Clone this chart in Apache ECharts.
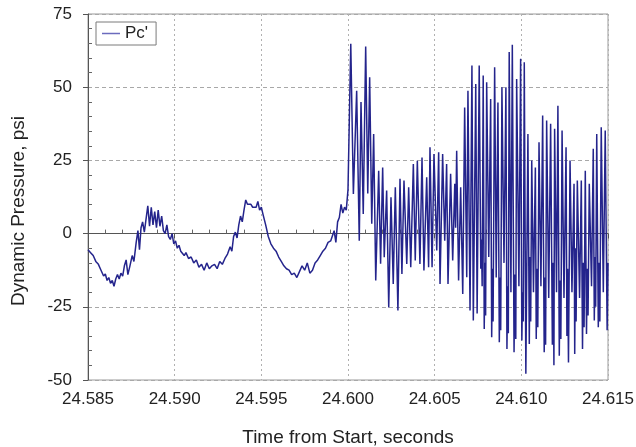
<!DOCTYPE html>
<html>
<head>
<meta charset="utf-8">
<script src="https://cdn.jsdelivr.net/npm/echarts@6/dist/echarts.min.js"></script>
<style>html,body{margin:0;padding:0;background:#fff}#c{width:636px;height:447px}</style>
</head>
<body>
<div id="c"></div>
<script>
// Time offsets in milliseconds after 24.585 s, and dynamic pressure (psi)
// Segment 1: slow wave before the burst
const earlyMs = [
0.00,0.15,0.30,0.45,0.60,0.75,0.90,1.00,1.10,1.20,1.30,1.40,1.50,1.60,1.70,1.80,1.90,2.00,2.10,2.20,
2.30,2.42,2.55,2.65,2.78,2.88,2.97,3.06,3.15,3.25,3.35,3.45,3.55,3.65,3.75,3.85,3.95,4.05,4.15,4.25,
4.35,4.45,4.55,4.65,4.75,4.85,4.95,5.05,5.15,5.25,5.35,5.45,5.55,5.65,5.80,5.95,6.10,6.25,6.40,6.55,
6.70,6.85,7.00,7.15,7.30,7.45,7.60,7.75,7.90,8.05,8.20,8.30,8.40,8.50,8.60,8.70,8.80,8.90,9.00,9.10,
9.20,9.30,9.40,9.50,9.60,9.70,9.80,9.90,10.00,10.10,10.25,10.40,10.55,10.70,10.85,11.00,11.15,11.30,11.45,11.60,
11.75,11.90,12.05,12.20,12.35,12.50,12.65,12.80,12.95,13.10,13.25,13.40,13.55,13.70,13.85,14.00,14.20,14.30,14.40,14.50,
14.60,14.70,14.80,14.90,15.00
];
const earlyPsi = [
-5.5,-6.5,-7.5,-9.5,-10.5,-12.5,-14.5,-13.8,-16.0,-15.0,-17.0,-16.0,-18.0,-15.5,-14.0,-15.5,-13.5,-14.5,-11.0,-9.0,
-14.0,-11.0,-7.5,-9.5,-3.0,1.0,-5.5,2.0,4.0,0.5,5.0,9.5,2.5,9.0,3.0,7.5,2.0,8.0,2.5,6.0,
1.0,0.0,3.0,-1.0,-2.0,0.0,-3.5,-2.5,-5.0,-4.0,-6.0,-5.5,-7.5,-6.5,-8.5,-8.0,-10.0,-9.0,-11.5,-10.5,
-12.5,-10.0,-12.0,-11.0,-10.5,-12.0,-9.5,-10.5,-8.5,-7.0,-4.5,-6.0,-1.0,0.5,-1.5,3.0,6.0,4.0,8.0,11.5,
10.0,9.5,10.0,9.0,9.5,9.0,11.0,8.0,9.0,6.5,3.0,-1.0,-3.5,-5.0,-6.0,-8.0,-9.5,-11.0,-12.0,-12.5,
-14.0,-13.5,-15.0,-13.0,-11.0,-12.5,-10.0,-13.5,-12.5,-10.0,-9.0,-7.5,-6.0,-5.0,-3.0,-2.5,1.0,-3.0,4.0,5.5,
10.0,7.0,9.0,8.0,15.0
];
// Segment 2: onset of the oscillation burst
const burstMs = [
15.16,15.31,15.50,15.65,15.75,15.88,16.02,16.14,16.25,16.37,16.48,16.60,16.77,16.88,17.00,17.09,17.23,17.35,17.48,17.61,
17.73,17.88,18.00,18.11,18.23,18.39,18.50,18.62,18.77,18.88,19.00,19.15,19.27,19.38,19.54,19.65,19.73,19.85,19.96,20.12,
20.23,20.31,20.46,20.58,20.69,20.77,20.92,21.04,21.16,21.21,21.27,21.38,21.50,21.62,21.73,21.85,21.92,22.04,22.15,22.23,
22.37,22.45,22.57
];
const burstPsi = [
64.8,13.5,48.8,-2.4,44.9,6.7,63.9,13.7,53.4,3.4,34.0,-16.0,21.5,-10.3,22.6,-8.1,14.7,-25.2,12.4,-17.2,
15.8,-26.3,18.7,-13.8,18.1,-10.4,15.8,-11.5,23.8,-9.2,24.9,-10.4,26.0,-12.6,19.2,-11.5,29.5,-11.5,27.2,-5.8,
27.8,-17.2,27.2,-2.4,23.8,-17.2,20.4,-9.2,17.0,2.0,28.3,-16.0,15.8,-20.6,43.1,-14.9,48.8,-26.3,57.4,-29.7,
51.1,-27.3,57.4
];
// Segment 3: large-amplitude oscillations
const lateMs = [
22.66,22.70,22.74,22.80,22.86,22.90,22.94,23.00,23.12,23.23,23.29,23.33,23.37,23.46,23.55,23.65,23.73,23.77,23.81,23.88,
24.00,24.11,24.17,24.21,24.25,24.30,24.40,24.48,24.58,24.63,24.68,24.73,24.86,24.96,25.03,25.07,25.11,25.17,25.26,25.38,
25.46,25.50,25.54,25.60,25.70,25.81,25.86,25.90,25.95,26.02,26.13,26.23,26.32,26.36,26.40,26.46,26.58,26.69,26.79,26.84,
26.88,26.92,27.03,27.11,27.19,27.23,27.28,27.35,27.46,27.58,27.63,27.67,27.72,27.81,27.92,28.04,28.08,28.12,28.16,28.23,
28.36,28.46,28.53,28.57,28.62,28.69,28.76,28.80,28.85,28.92,29.05,29.15,29.21,29.25,29.29,29.35,29.44,29.49,29.53,29.61,
29.73,29.84,29.95,30.00
];
const latePsi = [
-12.0,-2.0,-18.0,54.0,-32.6,-10.0,-28.0,51.7,-8.0,46.0,-35.4,-12.0,-30.0,56.8,-15.0,44.8,-37.1,-15.0,-33.0,50.0,
-10.0,50.0,-39.4,-18.0,-34.0,62.0,-20.0,64.5,-40.5,-14.0,-36.0,52.8,-18.0,59.7,-36.5,-20.0,-30.0,58.5,-47.9,34.0,
-37.7,-8.0,-30.0,25.0,-20.0,22.6,-36.0,-12.0,-32.0,31.2,-18.0,40.3,-40.5,-15.0,-38.0,38.6,-22.0,37.5,-38.0,-10.0,
-45.0,35.8,-20.0,43.7,-41.7,-16.0,-36.0,35.2,-22.0,29.5,-35.0,-12.0,-44.0,25.0,-20.0,17.0,-41.1,-5.0,-30.0,18.1,
-22.0,18.1,-39.4,-10.0,-32.0,21.5,-34.3,-12.0,-28.0,17.0,-18.0,29.0,-29.7,-8.0,-25.0,34.0,-32.0,-10.0,-30.0,36.3,
-20.0,35.2,-33.0,-10.0
];
const xTicks = [24.585,24.590,24.595,24.600,24.605,24.610,24.615];
const yTicks = [-50,-25,0,25,50,75];

const timeMs = earlyMs.concat(burstMs, lateMs);
const pressure = earlyPsi.concat(burstPsi, latePsi);
const series = timeMs.map((m,i)=>[24.585 + m/1000, pressure[i]]);
const FONT = "Liberation Sans";
const chart = echarts.init(document.getElementById('c'), null, {renderer:'canvas'});
const baseX = {
  type:'value', min:xTicks[0], max:xTicks[xTicks.length-1], interval:0.005, position:'bottom'
};
const baseY = {
  type:'value', min:yTicks[0], max:yTicks[yTicks.length-1], interval:25, position:'left'
};
chart.setOption({
  animation:false,
  backgroundColor:'#fff',
  grid:{left:88, right:28, top:14, bottom:67, outerBoundsMode:'none', containLabel:false,
        show:true, borderColor:'#9a9a9a', borderWidth:1},
  legend:{
    show:true, left:96, top:22, padding:[3,8,3,6], borderColor:'#7a7a7a', borderWidth:1, borderRadius:0,
    backgroundColor:'#fff', itemWidth:18, itemHeight:1.5, icon:'rect', itemGap:4,
    textStyle:{fontFamily:FONT, fontSize:17, color:'#222'},
    data:[{name:"Pc'", itemStyle:{color:'#6b6bbd'}}]
  },
  xAxis:[Object.assign({}, baseX, {
    name:'Time from Start, seconds', nameLocation:'middle', nameGap:48,
    nameTextStyle:{fontFamily:FONT, fontSize:19, color:'#222'},
    axisLine:{show:true, lineStyle:{color:'#555', width:1}},
    axisTick:{show:true, length:5, inside:false, lineStyle:{color:'#555'}},
    axisLabel:{fontFamily:FONT, fontSize:17, color:'#222', margin:11, formatter:v=>v.toFixed(3)},
    splitLine:{show:true, lineStyle:{color:'#b0b0b0', type:[2,3], width:1}}
  }), Object.assign({}, baseX, {
    axisLine:{show:false}, axisLabel:{show:false}, splitLine:{show:false},
    axisTick:{show:false, inside:true},
    minorTick:{show:true, splitNumber:5, length:4, lineStyle:{color:'#666'}}
  })],
  yAxis:[Object.assign({}, baseY, {
    name:'Dynamic Pressure, psi', nameLocation:'middle', nameGap:60, nameRotate:90,
    nameTextStyle:{fontFamily:FONT, fontSize:19, color:'#222', padding:[0,28,0,0]},
    axisLine:{show:true, lineStyle:{color:'#555', width:1}},
    axisTick:{show:true, length:5, inside:false, lineStyle:{color:'#555'}},
    axisLabel:{fontFamily:FONT, fontSize:17, color:'#222', margin:16},
    splitLine:{show:true, lineStyle:{color:'#a8a8a8', type:[4,3], width:1}}
  }), Object.assign({}, baseY, {
    axisLine:{show:false}, axisLabel:{show:false}, splitLine:{show:false},
    axisTick:{show:false, inside:true},
    minorTick:{show:true, splitNumber:5, length:4, lineStyle:{color:'#666'}}
  })],
  series:[{
    name:"Pc'", type:'line', data:series, showSymbol:false, symbol:'none',
    xAxisIndex:0, yAxisIndex:0,
    lineStyle:{color:'#24248c', width:1.5}, itemStyle:{color:'#24248c'}
  }]
});
</script>
</body>
</html>
